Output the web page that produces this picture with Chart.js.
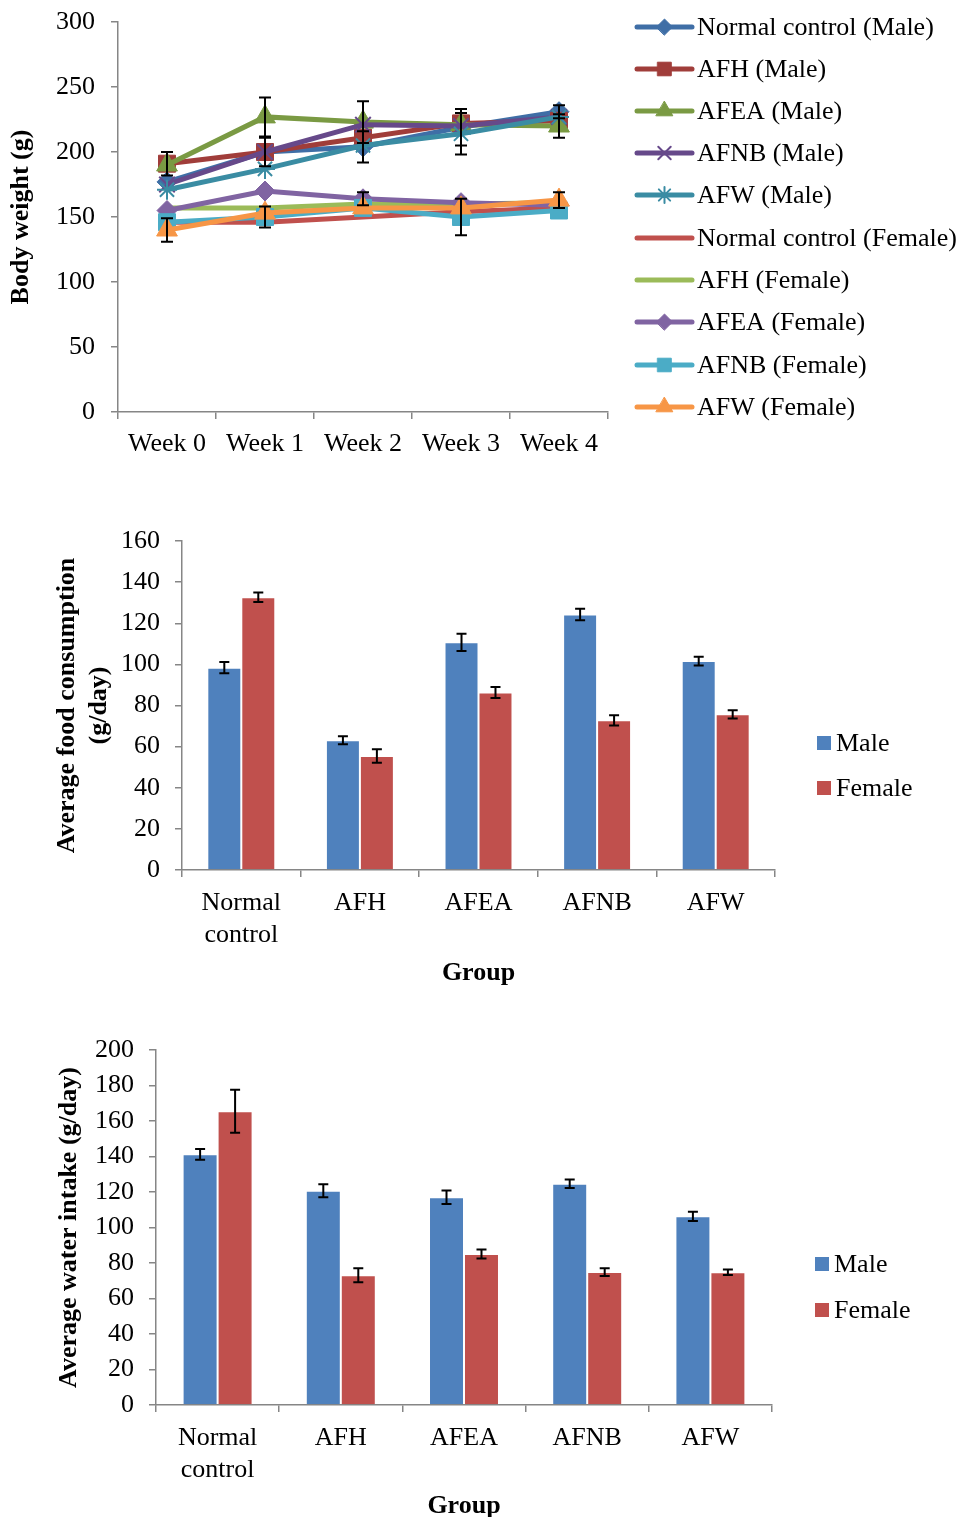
<!DOCTYPE html>
<html>
<head>
<meta charset="utf-8">
<title>Body weight, food and water intake</title>
<script src="https://cdn.jsdelivr.net/npm/chart.js@4.4.1/dist/chart.umd.min.js"></script>
<style>
    html, body { margin: 0; padding: 0; background: #fff; overflow: hidden; }
    body { width: 963px; height: 1517px; position: relative; }
    canvas { position: absolute; left: 0; }
    #weight-chart { top: 0; }
    #food-chart { top: 500px; }
    #water-chart { top: 1000px; }
</style>
</head>
<body>
<canvas id="weight-chart" width="963" height="470"></canvas>
<canvas id="food-chart" width="963" height="500"></canvas>
<canvas id="water-chart" width="963" height="530"></canvas>
<script>
// ---- data ----
const weeks = ['Week 0', 'Week 1', 'Week 2', 'Week 3', 'Week 4'];
const weightTicks = [0, 300, 50];

const weightSeriesNames = [
    'Normal control (Male)', 'AFH (Male)', 'AFEA (Male)', 'AFNB (Male)', 'AFW (Male)',
    'Normal control (Female)', 'AFH (Female)', 'AFEA (Female)', 'AFNB (Female)', 'AFW (Female)'
];
const controlMale = [177, 200, 204, 219, 231];
const afhMale = [191, 200, 211, 222, 224];
const afeaMale = [190, 227, 223, 221, 220];
const afnbMale = [175, 200, 221, 220, 227];
const afwMale = [171, 187, 205, 214, 227];
const controlFemale = [146, 146, 150, 154, 157];
const afhFemale = [157, 157, 160, 160, 161];
const afeaFemale = [155, 170, 164, 161, 159];
const afnbFemale = [146, 150, 157, 150, 155];
const afwFemale = [140, 153, 157, 157, 163];

// only the error bars that stick out from behind the markers are given
const controlMaleErr = [0, 0, 12, 14, 5];
const afhMaleErr = [9, 11, 0, 0, 0];
const afeaMaleErr = [0, 15, 16, 0, 9];
const afnbMaleErr = [0, 0, 0, 0, 0];
const afwMaleErr = [0, 0, 0, 16, 0];
const controlFemaleErr = [0, 0, 0, 0, 0];
const afhFemaleErr = [0, 0, 0, 0, 0];
const afeaFemaleErr = [0, 0, 5, 0, 0];
const afnbFemaleErr = [0, 8, 0, 14, 0];
const afwFemaleErr = [9, 0, 0, 0, 6];

const groups = [['Normal', 'control'], 'AFH', 'AFEA', 'AFNB', 'AFW'];
const sexes = ['Male', 'Female'];

const foodTicks = [0, 160, 20];
const foodMale = [98.4, 63.1, 110.7, 124.3, 101.6];
const foodFemale = [132.6, 55.4, 86.3, 72.8, 75.7];
const foodMaleErr = [2.7, 1.9, 4.2, 2.8, 2.1];
const foodFemaleErr = [2.3, 3.3, 2.7, 2.5, 2.0];

const waterTicks = [0, 200, 20];
const waterMale = [141.2, 120.7, 117.0, 124.7, 106.3];
const waterFemale = [165.5, 73.1, 85.1, 74.9, 74.8];
const waterMaleErr = [3.0, 3.7, 3.8, 2.4, 2.6];
const waterFemaleErr = [12.1, 4.0, 2.5, 2.2, 1.5];

// ---- styling ----
const FONT = '"Liberation Serif", "Times New Roman", serif';
const AXIS_GREY = '#868686';

Chart.defaults.font.family = FONT;
Chart.defaults.font.size = 26;
Chart.defaults.color = '#000';
Chart.defaults.animation = false;

const errorBars = {
    id: 'errorBars',
    afterDatasetsDraw(chart, args, opts) {
        const ctx = chart.ctx;
        const yScale = chart.scales.y;
        const cap = opts.cap || 5;
        ctx.save();
        ctx.strokeStyle = '#000';
        ctx.lineWidth = 2;
        chart.data.datasets.forEach((ds, i) => {
            if (!ds.errors) return;
            const meta = chart.getDatasetMeta(i);
            meta.data.forEach((el, j) => {
                const v = ds.data[j];
                const e = ds.errors[j];
                if (!e) return;
                const top = yScale.getPixelForValue(v + e);
                const bot = yScale.getPixelForValue(v - e);
                ctx.beginPath();
                ctx.moveTo(el.x, top);
                ctx.lineTo(el.x, bot);
                ctx.moveTo(el.x - cap, top);
                ctx.lineTo(el.x + cap, top);
                ctx.moveTo(el.x - cap, bot);
                ctx.lineTo(el.x + cap, bot);
                ctx.stroke();
            });
        });
        ctx.restore();
    }
};

const sideLegend = {
    id: 'sideLegend',
    afterDraw(chart, args, opts) {
        if (!opts.rows) return;
        const ctx = chart.ctx;
        ctx.save();
        ctx.font = '26px ' + FONT;
        ctx.textBaseline = 'middle';
        chart.data.datasets.forEach((ds, i) => {
            const y = opts.rows[i];
            if (opts.kind === 'line') {
                const x0 = opts.x;
                const x1 = opts.x + opts.lineLen;
                ctx.strokeStyle = ds.borderColor;
                ctx.lineWidth = ds.borderWidth;
                ctx.lineCap = 'round';
                ctx.beginPath();
                ctx.moveTo(x0, y);
                ctx.lineTo(x1, y);
                ctx.stroke();
                if (ds.pointRadius > 0) {
                    ctx.fillStyle = ds.pointBackgroundColor;
                    ctx.strokeStyle = ds.pointBorderColor;
                    ctx.lineWidth = ds.pointBorderWidth;
                    Chart.helpers.drawPoint(ctx, {
                        pointStyle: ds.pointStyle,
                        radius: ds.pointRadius * 0.8,
                        rotation: 0,
                        borderWidth: ds.pointBorderWidth
                    }, (x0 + x1) / 2, y);
                }
                ctx.fillStyle = '#000';
                ctx.fillText(ds.label, x1 + 5, y + 1);
            } else {
                ctx.fillStyle = ds.backgroundColor;
                ctx.fillRect(opts.x, y - 7, 14, 14);
                ctx.fillStyle = '#000';
                ctx.fillText(ds.label, opts.x + 19, y + 1);
            }
        });
        ctx.restore();
    }
};

function valueAxis(ticks, width, tickPad, title, titlePad) {
    return {
        min: ticks[0],
        max: ticks[1],
        afterFit: scale => {
            scale.width = width;
            scale.paddingTop = 0;
            scale.paddingBottom = 0;
        },
        ticks: { stepSize: ticks[2], padding: tickPad, font: { size: 26 } },
        grid: { drawOnChartArea: false, drawTicks: true, tickLength: 7, color: AXIS_GREY, lineWidth: 1.5 },
        border: { color: AXIS_GREY, width: 1.5 },
        title: {
            display: true,
            text: title,
            font: { size: 26, weight: 'bold', lineHeight: 1.2 },
            padding: { top: titlePad, bottom: 0 }
        }
    };
}

function categoryAxis(height, labelPad, title, titlePad) {
    return {
        offset: true,
        afterFit: scale => { scale.height = height; },
        ticks: { padding: labelPad, maxRotation: 0, autoSkip: false, font: { size: 26, lineHeight: 1.2 } },
        grid: { offset: true, drawOnChartArea: false, drawTicks: true, tickLength: 7, color: AXIS_GREY, lineWidth: 1.5 },
        border: { color: AXIS_GREY, width: 1.5 },
        title: {
            display: !!title,
            text: title,
            font: { size: 26, weight: 'bold', lineHeight: 1.2 },
            padding: { top: 0, bottom: titlePad }
        }
    };
}

// ---- body weight line chart ----
const weightValues = [controlMale, afhMale, afeaMale, afnbMale, afwMale,
    controlFemale, afhFemale, afeaFemale, afnbFemale, afwFemale];
const weightErrors = [controlMaleErr, afhMaleErr, afeaMaleErr, afnbMaleErr, afwMaleErr,
    controlFemaleErr, afhFemaleErr, afeaFemaleErr, afnbFemaleErr, afwFemaleErr];
const lineColors = ['#3F6EA6', '#A03D3A', '#7A9A43', '#66498A', '#3A8CA3',
    '#C0504D', '#9BBB59', '#8064A2', '#4BACC6', '#F79646'];
const markers = ['rectRot', 'rect', 'triangle', 'crossRot', 'star',
    'circle', 'circle', 'rectRot', 'rect', 'triangle'];
const markerSizes = [10, 12, 12, 11, 10, 0, 0, 10, 12, 12];

new Chart(document.getElementById('weight-chart'), {
    type: 'line',
    data: {
        labels: weeks,
        datasets: weightSeriesNames.map((name, i) => ({
            label: name,
            data: weightValues[i],
            errors: weightErrors[i],
            borderColor: lineColors[i],
            backgroundColor: lineColors[i],
            borderWidth: 5,
            pointStyle: markers[i],
            pointRadius: markerSizes[i],
            pointHoverRadius: markerSizes[i],
            pointBackgroundColor: lineColors[i],
            pointBorderColor: lineColors[i],
            pointBorderWidth: (markers[i] === 'crossRot' || markers[i] === 'star') ? 2 : 1,
            tension: 0,
            order: weightSeriesNames.length - i
        }))
    },
    options: {
        responsive: false,
        layout: { padding: { left: 0, right: 355, top: 22, bottom: 0 } },
        plugins: {
            legend: { display: false },
            tooltip: { enabled: false },
            errorBars: { cap: 6 },
            sideLegend: {
                kind: 'line',
                x: 637,
                lineLen: 55,
                rows: [27, 69, 111, 153, 195, 238, 280, 322, 365, 407]
            }
        },
        scales: {
            x: categoryAxis(58, 10, '', 0),
            y: valueAxis(weightTicks, 118, 16, 'Body weight (g)', 6)
        }
    },
    plugins: [errorBars, sideLegend]
});

// ---- grouped bar charts ----
function barChart(id, male, female, maleErr, femaleErr, ticks, cfg) {
    const values = [male, female];
    const errs = [maleErr, femaleErr];
    const colors = ['#4F81BD', '#C0504D'];
    return new Chart(document.getElementById(id), {
        type: 'bar',
        data: {
            labels: groups,
            datasets: sexes.map((s, i) => ({
                label: s,
                data: values[i],
                errors: errs[i],
                backgroundColor: colors[i],
                borderColor: 'rgba(255,255,255,0.45)',
                borderWidth: 1,
                barPercentage: 1.0,
                categoryPercentage: cfg.catPct
            }))
        },
        options: {
            responsive: false,
            layout: { padding: { left: 0, right: cfg.right, top: cfg.top, bottom: 0 } },
            plugins: {
                legend: { display: false },
                tooltip: { enabled: false },
                errorBars: { cap: 5 },
                sideLegend: { kind: 'box', x: cfg.legendX, rows: cfg.legendRows }
            },
            scales: {
                x: categoryAxis(cfg.xHeight, cfg.labelPad, 'Group', cfg.groupPad),
                y: valueAxis(ticks, cfg.left, 15, cfg.yTitle, cfg.yTitlePad)
            }
        },
        plugins: [errorBars, sideLegend]
    });
}

barChart('food-chart', foodMale, foodFemale, foodMaleErr, foodFemaleErr, foodTicks, {
    catPct: 0.573,
    left: 182,
    right: 188,
    top: 41,
    xHeight: 130,
    labelPad: 11,
    groupPad: 11,
    yTitle: ['Average food consumption', '(g/day)'],
    yTitlePad: 52,
    legendX: 817,
    legendRows: [243, 288]
});

barChart('water-chart', waterMale, waterFemale, waterMaleErr, waterFemaleErr, waterTicks, {
    catPct: 0.568,
    left: 156,
    right: 191,
    top: 50,
    xHeight: 125,
    labelPad: 11,
    groupPad: 8,
    yTitle: 'Average water intake (g/day)',
    yTitlePad: 54,
    legendX: 815,
    legendRows: [264, 310]
});
</script>
</body>
</html>
